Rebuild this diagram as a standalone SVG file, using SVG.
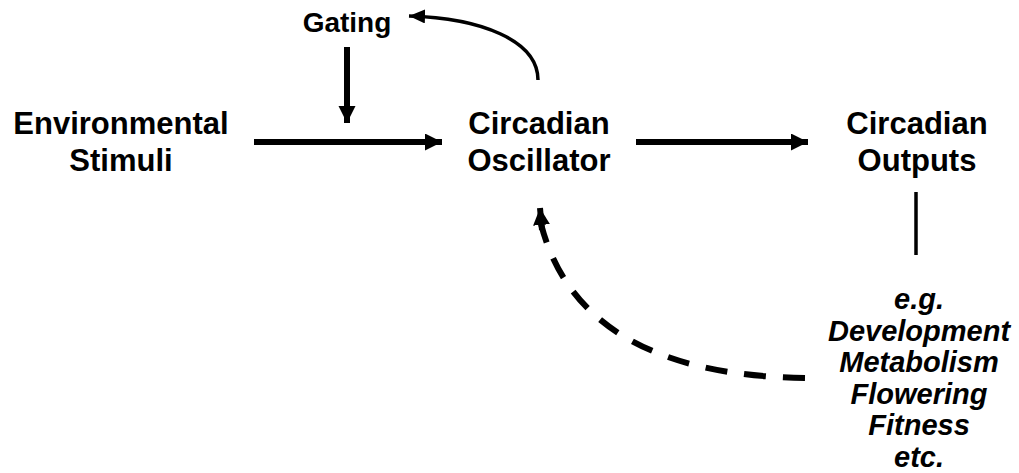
<svg xmlns="http://www.w3.org/2000/svg" width="1019" height="473" viewBox="0 0 1019 473">
<style>
.t{font-family:"Liberation Sans",Arial,sans-serif;font-weight:bold;font-size:31px;fill:#000;text-anchor:middle}
.g{font-size:28px}
.i{font-style:italic;font-size:29px}
.c{fill:none;stroke:#000}
</style>
<defs>
<marker id="ah" markerUnits="userSpaceOnUse" markerWidth="18" markerHeight="18" refX="17" refY="8.5" orient="auto"><path d="M0,0 L17,8.5 L0,17 z" fill="#000"/></marker>
<marker id="ahs" markerUnits="userSpaceOnUse" markerWidth="18" markerHeight="16" refX="16" refY="7" orient="auto"><path d="M0,0 L16,7 L0,14 z" fill="#000"/></marker>
</defs>
<g id="env"><text class="t" x="121" y="134">Environmental</text><text class="t" x="121" y="171">Stimuli</text></g>
<g id="gating"><text class="t g" x="347" y="32">Gating</text></g>
<g id="osc"><text class="t" x="539" y="134">Circadian</text><text class="t" x="539" y="171">Oscillator</text></g>
<g id="out"><text class="t" x="917" y="134">Circadian</text><text class="t" x="917" y="171">Outputs</text></g>
<g id="examples">
<text class="t i" x="919" y="309">e.g.</text>
<text class="t i" x="919" y="341">Development</text>
<text class="t i" x="919" y="372">Metabolism</text>
<text class="t i" x="919" y="404">Flowering</text>
<text class="t i" x="919" y="435">Fitness</text>
<text class="t i" x="919" y="467">etc.</text>
</g>
<g id="connectors">
<line class="c" x1="254" y1="142" x2="442" y2="142" stroke-width="6" marker-end="url(#ah)"/>
<line class="c" x1="347" y1="47" x2="347" y2="123" stroke-width="6" marker-end="url(#ah)"/>
<path class="c" d="M538,80 C538,40 480,18 409,16" stroke-width="3.5" marker-end="url(#ahs)"/>
<line class="c" x1="636" y1="142" x2="808" y2="142" stroke-width="6" marker-end="url(#ah)"/>
<line class="c" x1="916" y1="192" x2="916" y2="255" stroke-width="3.5"/>
<path class="c" d="M805,378 Q580,375 541,224" stroke-width="6" stroke-dasharray="22 17"/>
<path class="c" d="M542,230 L540,208" stroke-width="6" marker-end="url(#ah)"/>
</g>
</svg>
